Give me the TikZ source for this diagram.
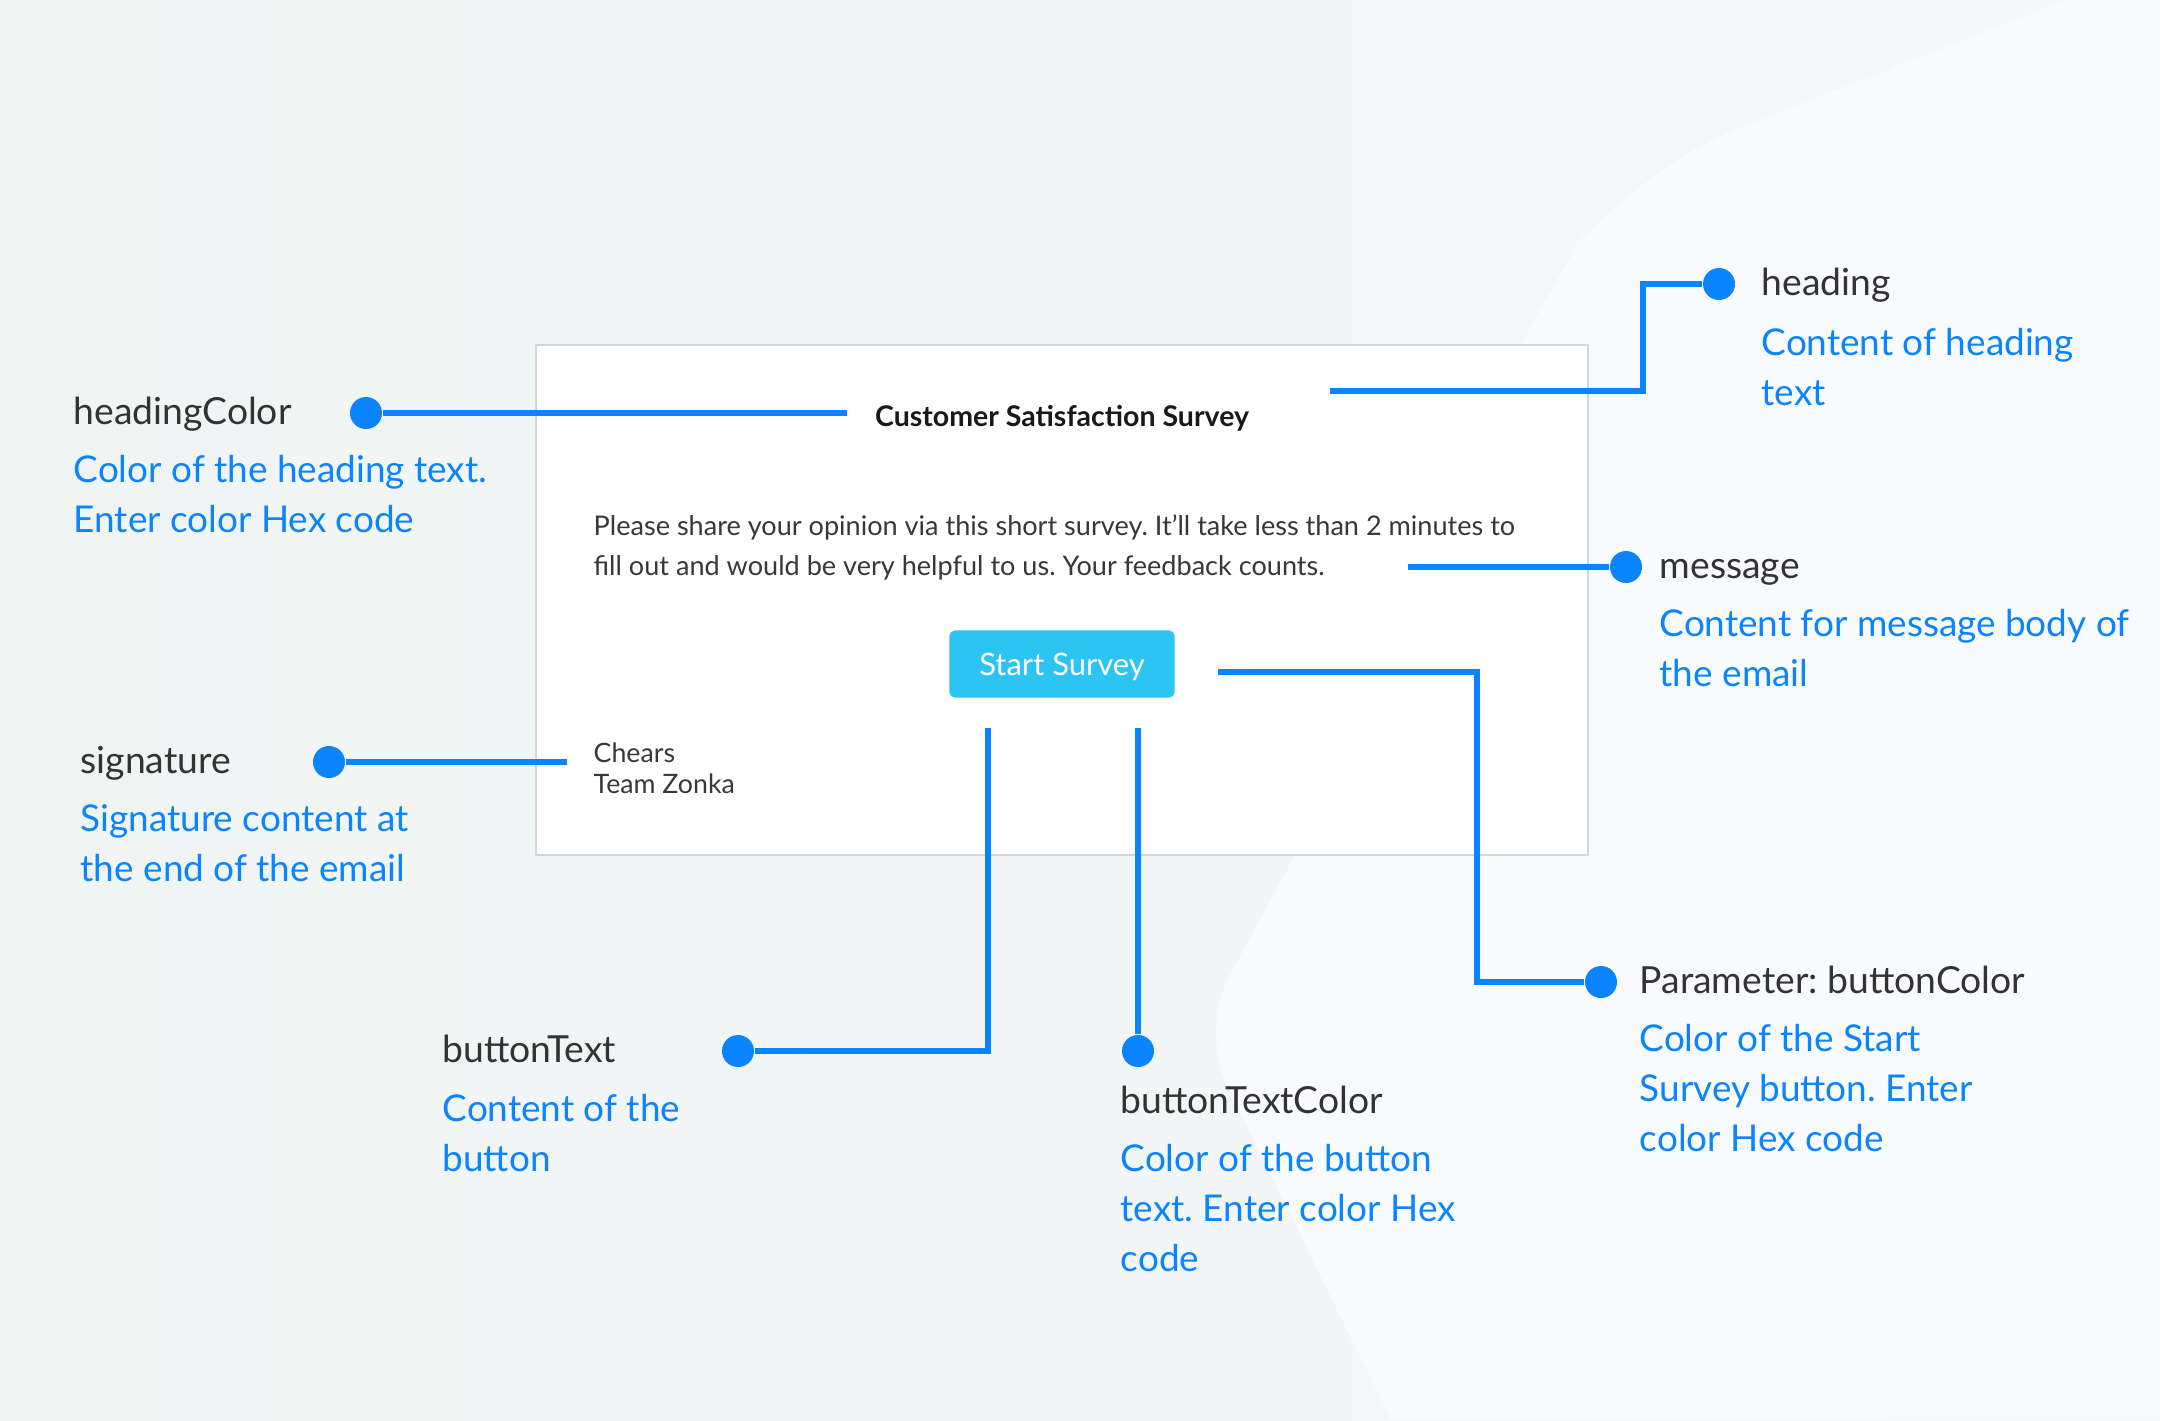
\documentclass[tikz,border=0pt]{standalone}
\usepackage{fontspec}
\setmainfont{Lato}
\frenchspacing
\definecolor{accent}{HTML}{0A84FF}
\definecolor{labelgray}{HTML}{333333}
\definecolor{btnblue}{HTML}{2CC4F2}
\definecolor{boxgray}{HTML}{D3D6D8}
\definecolor{bgleft}{HTML}{F0F4F3}
\definecolor{bgright}{HTML}{F5F8FA}
\definecolor{bgsheet}{HTML}{F8FAFD}
\definecolor{bodytext}{HTML}{383838}

\tikzset{
  dotnode/.style={circle, fill=accent, minimum size=0.32cm, inner sep=0pt},
  callout/.style={draw=accent, line width=1.6pt},
  paramname/.style={anchor=base west, inner sep=0pt, text=labelgray, font=\fontsize{10.6}{12}\selectfont},
  paramdesc/.style={anchor=base west, inner sep=0pt, align=left, text=accent, font=\fontsize{10.5}{14.2}\selectfont},
  mailtext/.style={anchor=base west, inner sep=0pt, align=left, text=bodytext, font=\fontsize{7.7}{11.1}\selectfont},
}

\begin{document}
\begin{tikzpicture}[x=0.01cm, y=-0.01cm]
  \useasboundingbox (0,0) rectangle (2160,1420);
  \shade[left color=bgleft, right color=bgright] (0,0) rectangle (2160,1420);
  \fill[bgsheet] (2066,0) [rounded corners=1.2cm] -- (1626,172) -- (1543,290) [sharp corners] -- (1295,855)
    [rounded corners=0.6cm] -- (1200,1030) [sharp corners] -- (1391,1420) -- (2160,1420) -- (2160,0) -- cycle;

  % the email
  \node[draw=boxgray, line width=0.5pt, fill=white, inner sep=0pt, minimum width=10.52cm, minimum height=5.1cm]
    (mail) at (1062,600) {};
  \node[anchor=base, inner sep=0pt, text=black!90, font=\bfseries\fontsize{8.1}{9}\selectfont]
    (title) at (1062,426) {Customer Satisfaction Survey};
  \node[mailtext] (body) at (593,575)
    {Please share your opinion via this short survey. It'll take less than 2 minutes to\\
     fill out and would be very helpful to us. Your feedback counts.};
  \node[fill=btnblue, rounded corners=1.5pt, minimum width=2.25cm, minimum height=0.67cm, inner sep=0pt,
    text depth=0pt, text=white, font=\fontsize{8.8}{10}\selectfont] (btn) at (1062,664) {Start Survey};
  \node[mailtext, font=\fontsize{7.6}{8.8}\selectfont] (sign) at (593,793) {Chears\\Team Zonka};

  % dots
  \node[dotnode] (hcdot)  at (366,413) {};
  \node[dotnode] (hdot)   at (1719,284) {};
  \node[dotnode] (mdot)   at (1626,567) {};
  \node[dotnode] (sdot)   at (329,762) {};
  \node[dotnode] (bcdot)  at (1601,982) {};
  \node[dotnode] (btdot)  at (738,1051) {};
  \node[dotnode] (btcdot) at (1138,1051) {};

  % free ends
  \coordinate (hcend)  at (847,413);
  \coordinate (hstart) at (1330,391);
  \coordinate (hbend)  at (1643,391);
  \coordinate (mstart) at (1408,567);
  \coordinate (send)   at (567,762);
  \coordinate (bcstart) at (1218,672);
  \coordinate (bcbend)  at (1477,672);
  \coordinate (btstart) at (988,728);
  \coordinate (btcstart) at (1138,728);

  \draw[callout] (hcdot) -- (hcend);
  \draw[callout] (hstart) -- (hbend) |- (hdot);
  \draw[callout] (mstart) -- (mdot);
  \draw[callout] (sdot) -- (send);
  \draw[callout] (bcstart) -- (bcbend) |- (bcdot);
  \draw[callout] (btstart) |- (btdot);
  \draw[callout] (btcstart) -- (btcdot);

  % parameter labels
  \node[paramname] (hcname) at (73,424) {headingColor};
  \node[paramdesc] (hcdesc) at (73,532) {Color of the heading text.\\Enter color Hex code};
  \node[paramname] (hname) at (1761,295) {heading};
  \node[paramdesc] (hdesc) at (1761,405) {Content of heading\\text};
  \node[paramname] (mname) at (1659,578) {message};
  \node[paramdesc] (mdesc) at (1659,686) {Content for message body of\\the email};
  \node[paramname] (sname) at (80,773) {signature};
  \node[paramdesc] (sdesc) at (80,881) {Signature content at\\the end of the email};
  \node[paramname] (bcname) at (1639,993) {Parameter: buttonColor};
  \node[paramdesc] (bcdesc) at (1639,1151) {Color of the Start\\Survey button. Enter\\color Hex code};
  \node[paramname] (btname) at (442,1062) {buttonText};
  \node[paramdesc] (btdesc) at (442,1171) {Content of the\\button};
  \node[paramname] (btcname) at (1120,1113) {buttonTextColor};
  \node[paramdesc] (btcdesc) at (1120,1271) {Color of the button\\text. Enter color Hex\\code};
\end{tikzpicture}
\end{document}
